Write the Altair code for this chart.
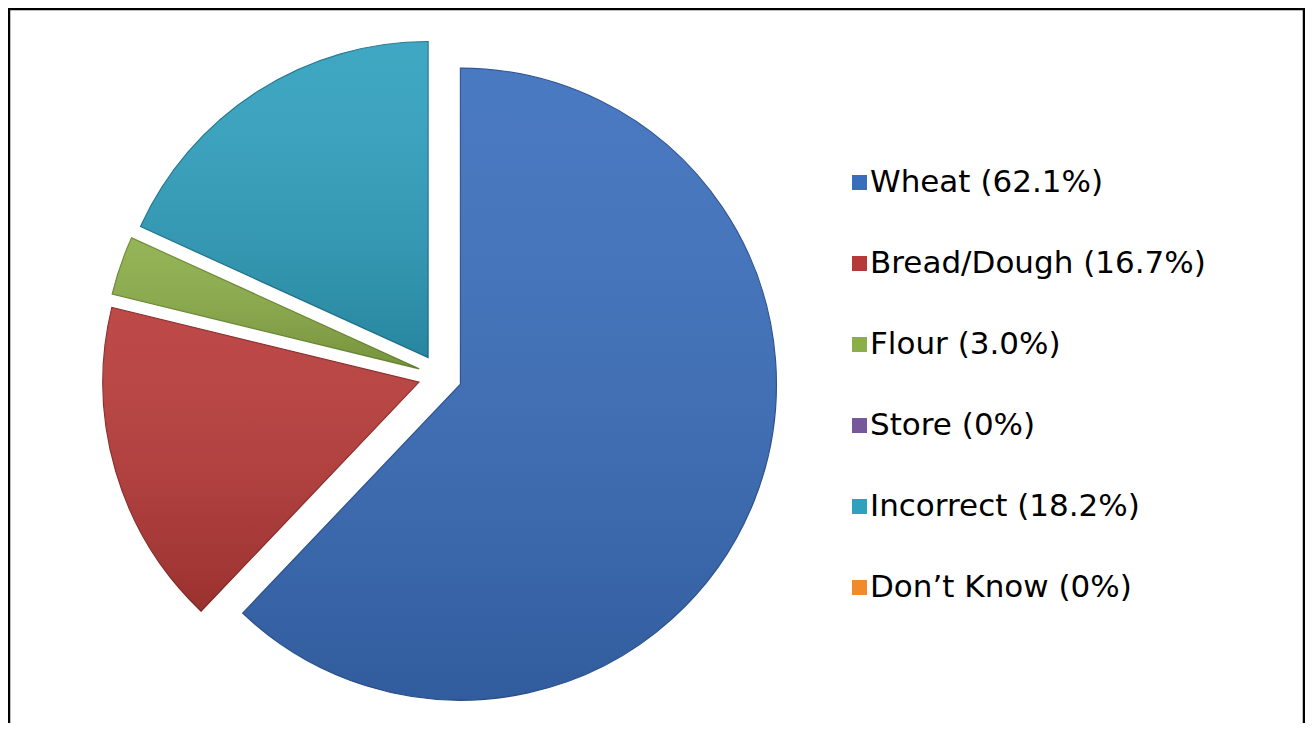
import math
import altair as alt
import pandas as pd

# ---- data ----
categories = ["Wheat", "Bread/Dough", "Flour", "Store", "Incorrect", "Don’t Know"]
values = [62.1, 16.7, 3.0, 0.0, 18.2, 0.0]
legend_labels = ["Wheat (62.1%)", "Bread/Dough (16.7%)", "Flour (3.0%)",
                 "Store (0%)", "Incorrect (18.2%)", "Don’t Know (0%)"]
colors = ["#3A6EBC", "#B83A38", "#8CAE48", "#76599A", "#2FA0BE", "#F08A2A"]
strokes = ["#2B5290", "#8A2A28", "#6A8A32", "#5A437A", "#1F7590", "#C06A18"]

# ---- layout constants ----
W, H = 1297, 715
CX, CY = 432, 368       # pie centre (chart coords)
R = 316                 # radius
EXPLODE = 22            # explosion distance

total = sum(values)
rows = []
acc = 0.0
for cat, v, lab, c, s in zip(categories, values, legend_labels, colors, strokes):
    start = acc / total * 2 * math.pi
    acc += v
    end = acc / total * 2 * math.pi
    mid = (start + end) / 2
    rows.append({
        "category": cat, "value": v, "label": lab,
        "start": start, "end": end,
        "px": CX + EXPLODE * math.sin(mid),
        "py": CY - EXPLODE * math.cos(mid),
        "stroke": s,
    })
df = pd.DataFrame(rows)

color_scale = alt.Scale(domain=legend_labels, range=colors)

base = alt.Chart(df).transform_filter(alt.datum.value > 0)

slices = base.mark_arc(radius=R, strokeWidth=1.2).encode(
    theta=alt.Theta("start:Q", scale=None),
    theta2="end:Q",
    x=alt.X("px:Q", scale=None),
    y=alt.Y("py:Q", scale=None),
    color=alt.Color(
        "label:N", scale=color_scale, sort=legend_labels,
        legend=alt.Legend(
            title=None, orient="none", legendX=836, legendY=159,
            symbolType="square", symbolSize=225, symbolStrokeWidth=0,
            labelFont="DejaVu Sans", labelFontSize=31, labelColor="black",
            labelOffset=alt.ExprRef(expr="-5"), labelLimit=0, rowPadding=49,
            padding=0,
        ),
    ),
    stroke=alt.Stroke("stroke:N", scale=None),
)

shade = base.mark_arc(
    radius=R,
    fill=alt.Gradient(
        gradient="linear", x1=0, y1=0, x2=0, y2=1,
        stops=[
            alt.GradientStop(offset=0, color="rgba(255,255,255,0.08)"),
            alt.GradientStop(offset=1, color="rgba(0,0,0,0.16)"),
        ],
    ),
).encode(
    theta=alt.Theta("start:Q", scale=None),
    theta2="end:Q",
    x=alt.X("px:Q", scale=None),
    y=alt.Y("py:Q", scale=None),
)

frame_df = pd.DataFrame({"k": [0]})
left = alt.Chart(frame_df).mark_rule(color="black", strokeWidth=2.5).encode(
    x=alt.value(1), y=alt.value(0), y2=alt.value(H))
top = alt.Chart(frame_df).mark_rule(color="black", strokeWidth=2.5).encode(
    x=alt.value(0), x2=alt.value(W), y=alt.value(1))
right = alt.Chart(frame_df).mark_rule(color="black", strokeWidth=2.5).encode(
    x=alt.value(W - 1), y=alt.value(0), y2=alt.value(H))

chart = alt.layer(slices, shade, left, top, right).properties(
    width=W, height=H, padding=0,
    autosize=alt.AutoSizeParams(type="none"),
).configure_view(stroke=None).configure(background="white")

chart.save("out.html", embed_options={"renderer": "svg", "actions": False})
